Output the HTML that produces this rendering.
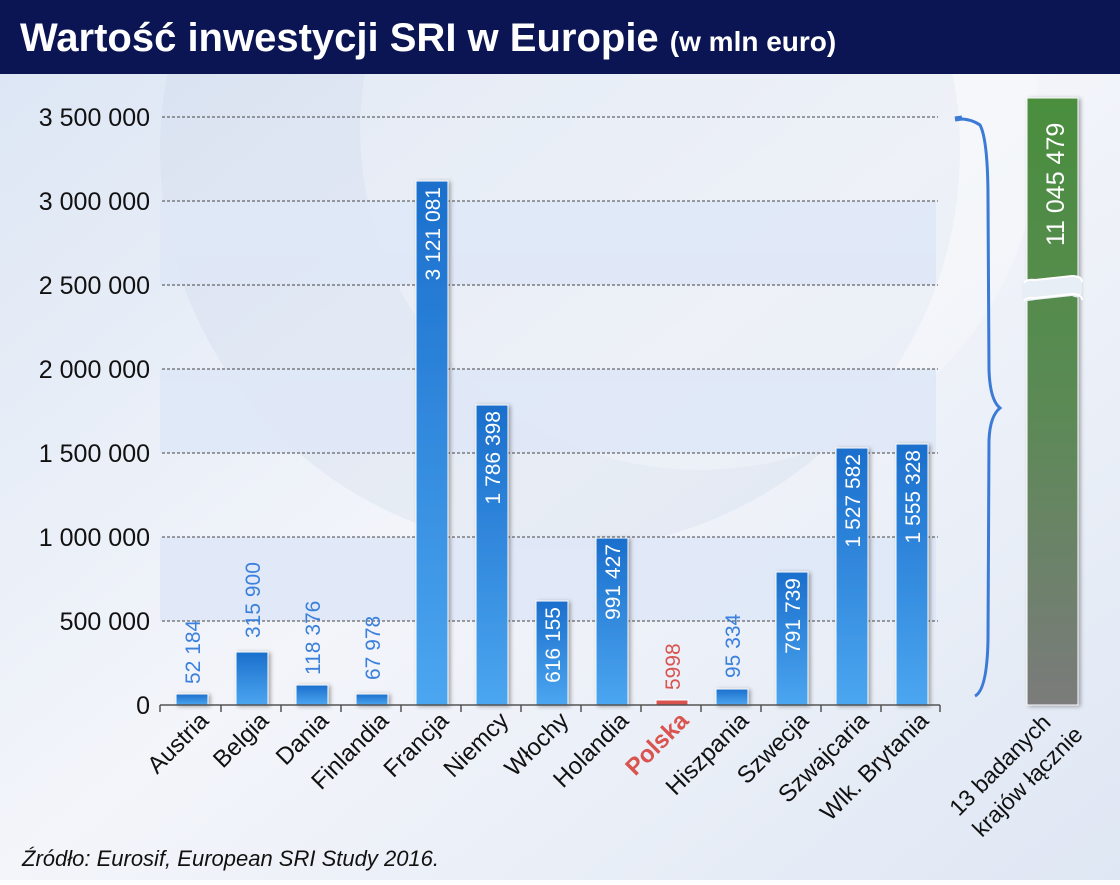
<!DOCTYPE html>
<html><head><meta charset="utf-8"><style>
html,body{margin:0;padding:0;}
body{width:1120px;height:880px;overflow:hidden;font-family:"Liberation Sans","DejaVu Sans",sans-serif;}
</style></head><body>
<svg width="1120" height="880" xmlns="http://www.w3.org/2000/svg" font-family="Liberation Sans, DejaVu Sans, sans-serif">
<defs>
<linearGradient id="bg" x1="0" y1="0" x2="1" y2="1">
<stop offset="0" stop-color="#dbe5f4"/><stop offset="0.5" stop-color="#f3f5fa"/><stop offset="1" stop-color="#dfe7f4"/></linearGradient>
<linearGradient id="bar" x1="0" y1="0" x2="0" y2="1">
<stop offset="0" stop-color="#1b6fcc"/><stop offset="1" stop-color="#4ca6f0"/></linearGradient>
<linearGradient id="gb" x1="0" y1="0" x2="0" y2="1">
<stop offset="0" stop-color="#4a8e3e"/><stop offset="0.5" stop-color="#5b8a55"/><stop offset="1" stop-color="#7b7b7b"/></linearGradient>
<filter id="sh" x="-30%" y="-5%" width="160%" height="110%"><feDropShadow dx="2" dy="1" stdDeviation="2" flood-color="#000" flood-opacity="0.35"/></filter>
</defs>
<rect width="1120" height="880" fill="url(#bg)"/>
<circle cx="560" cy="150" r="400" fill="#c9d3e6" opacity="0.25"/>
<circle cx="700" cy="130" r="340" fill="#ffffff" opacity="0.25"/>
<rect width="1120" height="74" fill="#0b1553"/>
<text x="20" y="51" fill="#fff" font-size="40" font-weight="bold">Wartość inwestycji SRI w Europie <tspan font-size="28">(w mln euro)</tspan></text>
<g fill="#dfe8f7" opacity="0.9">
<rect x="160" y="201" width="776" height="84"/><rect x="160" y="369" width="776" height="84"/><rect x="160" y="537" width="776" height="84"/></g>
<g stroke="#444" stroke-width="1" stroke-dasharray="3,2">
<line x1="162" y1="117" x2="938" y2="117"/><line x1="162" y1="201" x2="938" y2="201"/><line x1="162" y1="285" x2="938" y2="285"/><line x1="162" y1="369" x2="938" y2="369"/><line x1="162" y1="453" x2="938" y2="453"/><line x1="162" y1="537" x2="938" y2="537"/><line x1="162" y1="621" x2="938" y2="621"/></g>
<g font-size="25" fill="#111" text-anchor="end">
<text x="150" y="126">3 500 000</text><text x="150" y="210">3 000 000</text><text x="150" y="294">2 500 000</text><text x="150" y="378">2 000 000</text><text x="150" y="462">1 500 000</text><text x="150" y="546">1 000 000</text><text x="150" y="630">500 000</text><text x="150" y="714">0</text></g>
<g filter="url(#sh)" fill="url(#bar)" stroke="#fff" stroke-width="1">
<rect x="176" y="694" width="32" height="11"/>
<rect x="236" y="652" width="32" height="53"/>
<rect x="296" y="685" width="32" height="20"/>
<rect x="356" y="694" width="32" height="11"/>
<rect x="416" y="181" width="32" height="524"/>
<rect x="476" y="405" width="32" height="300"/>
<rect x="536" y="601" width="32" height="104"/>
<rect x="596" y="538" width="32" height="167"/>
<rect x="716" y="689" width="32" height="16"/>
<rect x="776" y="572" width="32" height="133"/>
<rect x="836" y="448" width="32" height="257"/>
<rect x="896" y="444" width="32" height="261"/>
</g>
<rect x="656" y="700" width="32" height="5" fill="#d9534f" stroke="#fff"/>
<line x1="160" y1="705" x2="940" y2="705" stroke="#555" stroke-width="1.5"/>
<g stroke="#555" stroke-width="1.5">
<line x1="160" y1="705" x2="160" y2="712"/><line x1="221" y1="705" x2="221" y2="712"/><line x1="281" y1="705" x2="281" y2="712"/><line x1="341" y1="705" x2="341" y2="712"/><line x1="401" y1="705" x2="401" y2="712"/><line x1="461" y1="705" x2="461" y2="712"/><line x1="521" y1="705" x2="521" y2="712"/><line x1="581" y1="705" x2="581" y2="712"/><line x1="641" y1="705" x2="641" y2="712"/><line x1="701" y1="705" x2="701" y2="712"/><line x1="761" y1="705" x2="761" y2="712"/><line x1="821" y1="705" x2="821" y2="712"/><line x1="881" y1="705" x2="881" y2="712"/><line x1="940" y1="705" x2="940" y2="712"/></g>
<g font-size="21" fill="#3a80dc">
<text transform="translate(200,684) rotate(-90)">52 184</text>
<text transform="translate(260,638) rotate(-90)">315 900</text>
<text transform="translate(320,675) rotate(-90)">118 376</text>
<text transform="translate(380,680) rotate(-90)">67 978</text>
<text transform="translate(740,678) rotate(-90)">95 334</text>
</g>
<text transform="translate(680,690) rotate(-90)" font-size="21" fill="#d9534f">5998</text>
<g font-size="21" fill="#fff" text-anchor="end">
<text transform="translate(440,187) rotate(-90)">3 121 081</text>
<text transform="translate(500,411) rotate(-90)">1 786 398</text>
<text transform="translate(560,607) rotate(-90)">616 155</text>
<text transform="translate(620,544) rotate(-90)">991 427</text>
<text transform="translate(800,578) rotate(-90)">791 739</text>
<text transform="translate(860,454) rotate(-90)">1 527 582</text>
<text transform="translate(920,450) rotate(-90)">1 555 328</text>
</g>
<g font-size="24" fill="#111" text-anchor="end">
<text transform="translate(210,722) rotate(-45)">Austria</text>
<text transform="translate(270,722) rotate(-45)">Belgia</text>
<text transform="translate(330,722) rotate(-45)">Dania</text>
<text transform="translate(390,722) rotate(-45)">Finlandia</text>
<text transform="translate(450,722) rotate(-45)">Francja</text>
<text transform="translate(510,722) rotate(-45)">Niemcy</text>
<text transform="translate(570,722) rotate(-45)">Włochy</text>
<text transform="translate(630,722) rotate(-45)">Holandia</text>
<text transform="translate(690,722) rotate(-45)" fill="#d9534f" font-weight="bold">Polska</text>
<text transform="translate(750,722) rotate(-45)">Hiszpania</text>
<text transform="translate(810,722) rotate(-45)">Szwecja</text>
<text transform="translate(870,722) rotate(-45)">Szwajcaria</text>
<text transform="translate(930,722) rotate(-45)">Wlk. Brytania</text>
</g>
<path d="M955,119 Q970,118 980,125 Q988,140 988,200 L989,370 Q990,400 1000,408 Q990,416 989,440 L988,640 Q987,690 975,696" fill="none" stroke="#3b7ad6" stroke-width="3"/>
<path d="M955,119 L962,118" stroke="#3b7ad6" stroke-width="5"/>
<rect x="1027" y="98" width="51" height="607" fill="url(#gb)" stroke="#fff" stroke-width="1" filter="url(#sh)"/>
<path d="M1022,283 Q1026,279 1035,280 L1072,276 Q1084,276 1082,283 L1082,293 Q1080,300 1072,296 L1035,300 Q1024,302 1022,300 Z" fill="#e8eef6"/>
<path d="M1024,283 Q1026,279 1035,280 L1072,276 Q1082,276 1082,282 M1024,301 Q1026,297 1035,298 L1072,294 Q1082,294 1082,300" fill="none" stroke="#fff" stroke-width="2"/>
<text transform="translate(1064,246) rotate(-90)" font-size="25" fill="#fff">11 045 479</text>
<g font-size="23" fill="#111" text-anchor="end">
<text transform="translate(1052,724) rotate(-45)">13 badanych</text>
<text transform="translate(1084,736) rotate(-45)">krajów łącznie</text>
</g>
<text x="22" y="866" font-size="22" font-style="italic" fill="#111">Źródło: Eurosif, European SRI Study 2016.</text>
</svg>
</body></html>
